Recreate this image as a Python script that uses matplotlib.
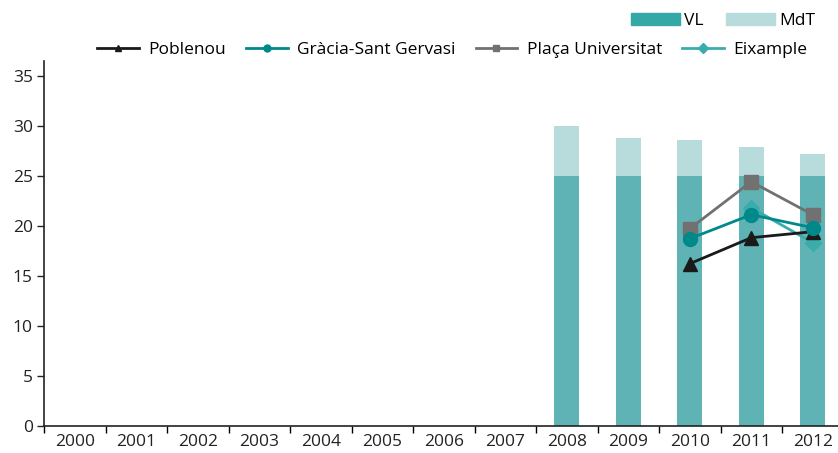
import numpy as np
import matplotlib.pyplot as plt
from matplotlib.patches import Patch
from matplotlib.lines import Line2D

plt.rcParams['font.family'] = ['Open Sans', 'DejaVu Sans']

years = ['2000', '2001', '2002', '2003', '2004', '2005', '2006',
         '2007', '2008', '2009', '2010', '2011', '2012']
nan = np.nan

# stacked bars
vl = [nan] * 8 + [25.0, 25.0, 25.0, 25.0, 25.0]
mdt = [nan] * 8 + [5.0, 3.8, 3.6, 2.9, 2.2]

# stations
poblenou = [nan] * 10 + [16.2, 18.8, 19.4]
gracia = [nan] * 10 + [18.7, 21.1, 19.8]
placa_univ = [nan] * 10 + [19.7, 24.4, 21.1]
eixample = [nan] * 11 + [21.8, 18.3]

c_vl_bar = '#5fb3b4'
c_vl_leg = '#33a8a5'
c_mdt = '#b8dcdb'
fs = 12.5

W, H = 838, 453
fig = plt.figure(figsize=(W / 100, H / 100), dpi=100)
cat_w = 61.5
ax = fig.add_axes([44 / W, 1 - 425.7 / H, 13 * cat_w / W, (425.7 - 60.7) / H])

x = np.arange(len(years))
ax.bar(x, vl, width=0.41, color=c_vl_bar, zorder=1)
ax.bar(x, mdt, width=0.41, bottom=vl, color=c_mdt, zorder=1)

ax.plot(x, placa_univ, color='#717171', lw=2, marker='s', ms=10, zorder=3)
ax.plot(x, poblenou, color='#1a1a1a', lw=2, marker='^', ms=10, zorder=4)
ax.plot(x, eixample, color='#3aacac', lw=2, marker='D', ms=8, zorder=3)
ax.plot(x, gracia, color='#00898a', lw=2, marker='o', ms=10, zorder=4)

ax.set_xlim(-0.5, len(years) - 0.5)
ax.set_ylim(0, 36.5)
ax.set_yticks(range(0, 36, 5))
ax.set_xticks(x)
ax.set_xticklabels(years)
ax.set_xticks(np.arange(-0.5, len(years), 1), minor=True)
ax.tick_params(axis='x', which='major', length=0, pad=6, labelsize=fs, colors='#222222')
ax.tick_params(axis='x', which='minor', length=5, width=1, direction='out')
ax.tick_params(axis='y', length=5, width=1, direction='out', labelsize=fs, colors='#222222',
               pad=3)
for s in ['top', 'right']:
    ax.spines[s].set_visible(False)
for s in ['left', 'bottom']:
    ax.spines[s].set_color('#222222')
    ax.spines[s].set_linewidth(1.2)

bar_handles = [Patch(color=c_vl_leg, label='VL'), Patch(color=c_mdt, label='MdT')]
fig.legend(handles=bar_handles, loc='center left', bbox_to_anchor=(631 / W, 1 - 21 / H),
           ncol=2, frameon=False, fontsize=fs, handlelength=2.8, handleheight=0.7,
           columnspacing=1.3, handletextpad=0.25, borderaxespad=0, borderpad=0)

line_handles = [
    Line2D([], [], color='#1a1a1a', lw=2, marker='^', ms=5, label='Poblenou'),
    Line2D([], [], color='#00898a', lw=2, marker='o', ms=5, label='Gràcia-Sant Gervasi'),
    Line2D([], [], color='#717171', lw=2, marker='s', ms=5, label='Plaça Universitat'),
    Line2D([], [], color='#3aacac', lw=2, marker='D', ms=5, label='Eixample'),
]
fig.legend(handles=line_handles, loc='center left', bbox_to_anchor=(97 / W, 1 - 50 / H),
           ncol=4, frameon=False, fontsize=fs, handlelength=2.4,
           columnspacing=1.15, handletextpad=0.55, borderaxespad=0, borderpad=0)

fig.savefig('out.png', dpi=100)
